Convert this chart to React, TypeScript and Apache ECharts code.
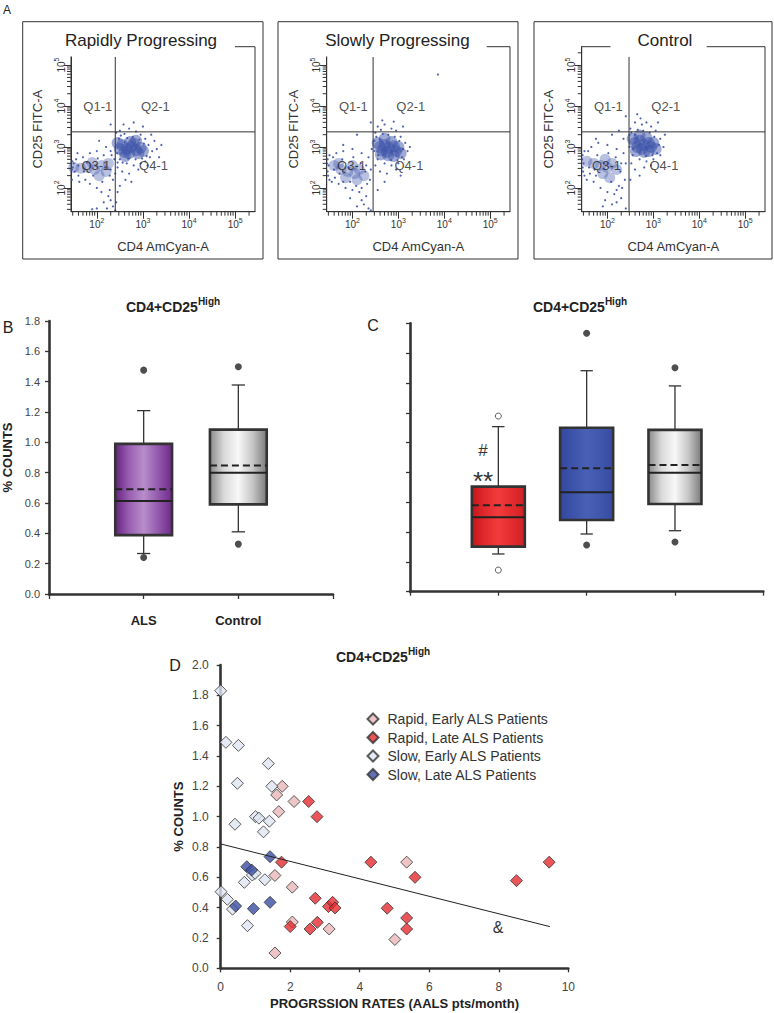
import React, { useEffect, useRef } from 'react';
import * as echarts from 'echarts';

const FONT = '"Liberation Sans", Arial, Helvetica, sans-serif';

// ---------------- Panel A : flow cytometry (values in log10 units) ----------------
const FLOW_TITLES = ['Rapidly Progressing', 'Slowly Progressing', 'Control'];
const FLOW_X_NAME = 'CD4 AmCyan-A';
const FLOW_Y_NAME = 'CD25 FITC-A';
const FLOW_DECADE_TICKS = [2, 3, 4, 5];
const FLOW_DECADES = [1, 2, 3, 4, 5];
const FLOW_MINOR_MULTIPLES = [2, 3, 4, 5, 6, 7, 8, 9];
const FLOW_X_RANGE = [1.44, 5.43];
const FLOW_Y_RANGE = [1.42, 5.45];
const GATE_TOP = 5.2;
const QUAD_LABELS = ['Q1-1', 'Q2-1', 'Q3-1', 'Q4-1'];
const QUAD_X = [2.02, 3.27, 1.98, 3.23];
const QUAD_Y = [4.0, 4.0, 2.55, 2.55];
const GATE_X = [2.4, 2.45, 2.47];
const GATE_Y = [3.37, 3.37, 3.37];

const RAPID_CORE = [[2.55, 3.05], [2.65, 2.95], [2.75, 3.0], [2.85, 2.92], [2.7, 2.85], [2.6, 2.88], [2.8, 3.08], [2.95, 2.98], [2.5, 2.95], [2.9, 2.85], [2.72, 3.12], [2.62, 2.78], [3.0, 2.9], [2.45, 3.1], [2.85, 3.15]];
const RAPID_Q3_CORE = [[1.8, 2.5], [1.95, 2.45], [2.1, 2.55], [2.2, 2.4], [1.65, 2.48], [2.05, 2.3], [1.9, 2.62], [2.25, 2.6], [1.5, 2.5]];
const RAPID_DOTS = [[2.42, 3.35], [2.5, 3.4], [2.6, 3.32], [2.7, 3.45], [2.85, 3.38], [2.95, 3.3], [3.05, 3.2], [3.12, 3.05], [3.2, 2.9], [3.15, 2.75], [3.05, 2.65], [2.95, 2.6], [2.8, 2.55], [2.65, 2.6], [2.5, 2.7], [2.45, 2.5], [2.55, 2.4], [2.7, 2.35], [2.9, 2.45], [3.1, 2.55], [3.25, 3.15], [3.3, 2.95], [2.58, 3.55], [2.8, 3.6], [3.0, 3.5], [2.44, 2.85], [2.48, 3.2], [3.18, 3.3], [2.62, 2.2], [2.5, 2.05], [2.75, 2.15], [1.5, 2.6], [1.52, 2.4], [1.55, 2.7], [1.6, 2.3], [1.7, 2.75], [1.75, 2.2], [1.85, 2.85], [1.85, 2.1], [2.0, 2.9], [2.0, 2.0], [2.15, 2.8], [2.12, 2.15], [2.3, 2.9], [2.35, 2.2], [2.38, 2.7], [2.3, 2.45], [2.2, 3.0], [2.1, 1.9], [2.25, 1.8], [2.3, 1.7], [2.15, 1.65], [2.35, 1.55], [2.0, 1.5], [1.9, 1.48], [2.4, 1.45], [2.28, 1.95], [1.6, 2.55], [1.48, 2.5], [2.3, 3.55], [2.05, 3.15], [1.46, 2.45], [1.47, 2.65], [1.46, 2.2], [1.58, 2.85], [1.62, 2.15], [1.72, 2.4], [1.78, 2.62], [1.92, 2.3], [2.02, 2.72], [2.18, 2.5], [2.28, 2.3], [2.32, 2.8], [2.4, 2.35], [2.45, 2.62], [2.52, 3.28], [2.66, 3.22], [2.78, 3.25], [2.92, 3.18], [3.02, 3.08], [3.08, 2.78], [2.98, 2.72], [2.84, 2.7], [2.56, 2.62], [2.6, 3.12], [2.68, 2.72], [3.35, 2.75], [3.4, 3.05], [2.45, 1.9], [2.42, 1.65], [2.22, 1.5]];

const SLOW_CORE = [[2.6, 3.0], [2.7, 3.05], [2.8, 2.98], [2.9, 3.02], [2.95, 2.9], [2.75, 2.88], [2.65, 2.92], [2.85, 3.12], [3.0, 3.0], [2.55, 3.1], [2.78, 2.8], [2.9, 2.78], [3.05, 2.85], [2.7, 3.2], [2.62, 2.82]];
const SLOW_Q3_CORE = [[1.75, 2.45], [1.9, 2.4], [2.05, 2.35], [2.15, 2.45], [2.0, 2.55], [1.6, 2.55], [2.25, 2.3], [1.85, 2.25], [2.1, 2.2], [1.7, 2.6]];
const SLOW_DOTS = [[2.5, 3.35], [2.55, 3.5], [2.7, 3.55], [2.85, 3.45], [2.95, 3.4], [3.05, 3.25], [3.15, 3.1], [3.2, 2.9], [3.12, 2.7], [3.0, 2.6], [2.85, 2.55], [2.7, 2.6], [2.55, 2.7], [2.48, 2.9], [2.5, 2.55], [2.6, 2.4], [2.75, 2.35], [2.95, 2.45], [3.25, 3.0], [2.65, 3.65], [2.9, 3.62], [3.1, 3.5], [2.48, 3.15], [3.05, 2.3], [2.7, 2.15], [2.55, 1.95], [1.45, 2.6], [1.47, 2.3], [1.5, 2.8], [1.55, 2.15], [1.65, 2.85], [1.7, 2.1], [1.8, 2.9], [1.85, 2.0], [2.0, 2.95], [2.0, 1.95], [2.2, 2.85], [2.15, 1.9], [2.35, 2.75], [2.38, 2.2], [2.3, 2.55], [2.3, 1.8], [2.2, 1.7], [2.25, 1.6], [2.1, 1.55], [2.35, 1.5], [1.95, 1.75], [2.4, 1.45], [1.8, 3.05], [2.1, 3.3], [1.6, 2.45], [1.48, 2.55], [2.42, 2.95], [3.86, 4.77], [1.46, 2.4], [1.46, 2.7], [1.5, 2.2], [1.58, 2.75], [1.62, 2.25], [1.72, 2.35], [1.78, 2.7], [1.92, 2.5], [2.02, 2.75], [2.18, 2.6], [2.28, 2.4], [2.32, 2.1], [2.4, 2.45], [2.08, 2.05], [2.52, 3.25], [2.66, 3.32], [2.78, 3.3], [2.92, 3.25], [3.02, 3.15], [3.08, 2.75], [2.98, 2.68], [2.84, 2.68], [2.56, 2.8], [2.6, 3.18], [3.1, 2.95], [2.62, 3.42], [2.4, 3.6], [2.2, 2.0], [1.95, 2.15], [1.8, 2.15]];

const CONTROL_CORE = [[2.6, 3.1], [2.7, 3.15], [2.8, 3.05], [2.9, 3.1], [2.95, 3.0], [2.75, 2.95], [2.65, 3.0], [2.85, 3.22], [3.0, 3.1], [2.55, 3.2], [2.8, 2.88], [2.9, 2.9], [3.05, 2.95], [2.7, 3.28], [2.62, 2.9]];
const CONTROL_Q3_CORE = [[1.7, 2.6], [1.85, 2.55], [2.0, 2.5], [2.1, 2.6], [1.95, 2.7], [1.55, 2.65], [2.2, 2.45], [1.9, 2.35], [2.05, 2.25]];
const CONTROL_DOTS = [[2.5, 3.45], [2.6, 3.6], [2.72, 3.7], [2.85, 3.6], [2.95, 3.5], [3.05, 3.4], [3.15, 3.2], [3.22, 3.0], [3.15, 2.8], [3.0, 2.7], [2.85, 2.65], [2.7, 2.7], [2.55, 2.8], [2.48, 3.0], [2.52, 2.6], [2.6, 2.45], [2.8, 2.5], [3.25, 3.3], [2.65, 3.8], [3.1, 3.6], [2.48, 3.3], [2.7, 2.3], [2.5, 2.2], [2.95, 2.55], [1.45, 2.7], [1.47, 2.4], [1.5, 2.9], [1.55, 2.2], [1.65, 3.0], [1.7, 2.15], [1.8, 3.1], [1.85, 2.0], [2.0, 3.05], [2.0, 1.9], [2.2, 2.95], [2.15, 1.85], [2.35, 2.85], [2.38, 2.2], [2.3, 2.6], [2.3, 1.75], [2.2, 1.65], [2.25, 2.05], [2.1, 1.6], [1.95, 1.7], [2.4, 1.5], [1.75, 3.2], [2.1, 3.3], [1.6, 2.5], [1.48, 2.6], [1.9, 1.55], [2.35, 3.2], [1.46, 2.5], [1.46, 2.8], [1.5, 2.3], [1.58, 2.9], [1.62, 2.35], [1.72, 2.45], [1.78, 2.8], [1.92, 2.6], [2.02, 2.85], [2.18, 2.75], [2.28, 2.4], [2.32, 2.0], [2.4, 2.6], [2.08, 2.15], [2.52, 3.35], [2.66, 3.42], [2.78, 3.4], [2.92, 3.35], [3.02, 3.25], [3.08, 2.85], [2.98, 2.8], [2.84, 2.78], [2.56, 2.95], [2.6, 3.3], [3.12, 3.05], [2.75, 3.55], [2.4, 3.75], [2.2, 1.95], [1.75, 2.3], [2.25, 3.4]];

const FLOW_CORES = [RAPID_CORE, SLOW_CORE, CONTROL_CORE];
const FLOW_Q3_CORES = [RAPID_Q3_CORE, SLOW_Q3_CORE, CONTROL_Q3_CORE];
const FLOW_DOTS = [RAPID_DOTS, SLOW_DOTS, CONTROL_DOTS];

// ---------------- Panel B : ALS vs Control ----------------
const B_TITLE_MAIN = 'CD4+CD25';
const B_TITLE_SUP = 'High';
const B_CATEGORIES = ['ALS', 'Control'];
const B_LOW = [0.267, 0.41];
const B_Q1 = [0.388, 0.591];
const B_MEDIAN = [0.613, 0.8];
const B_Q3 = [0.99, 1.084];
const B_HIGH = [1.209, 1.378];
const B_MEAN = [0.69, 0.848];
const B_OUT_HIGH = [1.476, 1.498];
const B_OUT_LOW = [0.241, 0.329];

// ---------------- Panel C : rapid / slow / control ----------------
const C_GROUPS = ['Rapid', 'Slow', 'Control'];
const C_LOW = [0.253, 0.387, 0.409];
const C_Q1 = [0.302, 0.481, 0.588];
const C_MEDIAN = [0.499, 0.667, 0.798];
const C_Q3 = [0.705, 1.1, 1.085];
const C_HIGH = [1.107, 1.482, 1.38];
const C_MEAN = [0.58, 0.828, 0.85];
const C_OUT_HIGH = [1.178, 1.733, 1.502];
const C_OUT_LOW = [0.145, 0.313, 0.333];
const C_OUT_OPEN = [true, false, false];

// ---------------- Panel D : scatter ----------------
const D_NAMES = ['Rapid, Early ALS Patients', 'Rapid, Late ALS Patients', 'Slow, Early ALS Patients', 'Slow, Late ALS Patients'];
const RAPID_EARLY = [[1.77, 1.2], [1.61, 1.143], [1.67, 1.033], [2.11, 1.1], [1.56, 0.612], [2.06, 0.535], [2.06, 0.305], [1.56, 0.101], [3.12, 0.259], [5.35, 0.7], [5.01, 0.19]];
const RAPID_LATE = [[2.53, 1.1], [2.77, 1.0], [1.75, 0.7], [2.0, 0.275], [2.57, 0.259], [2.72, 0.462], [2.78, 0.303], [3.1, 0.407], [3.22, 0.435], [3.29, 0.398], [4.32, 0.7], [4.79, 0.396], [5.59, 0.6], [5.35, 0.332], [5.35, 0.259], [8.51, 0.578], [9.45, 0.7]];
const SLOW_EARLY = [[0, 1.83], [0.15, 1.49], [0.51, 1.47], [0.48, 1.22], [0.41, 0.95], [1.37, 1.35], [1.47, 1.2], [1.0, 1.0], [1.1, 0.99], [1.4, 0.97], [1.23, 0.9], [0.68, 0.567], [0.91, 0.615], [0.99, 0.626], [1.27, 0.584], [0.01, 0.505], [0.19, 0.455], [0.34, 0.39], [0.77, 0.281]];
const SLOW_LATE = [[0.43, 0.41], [0.75, 0.67], [0.89, 0.648], [0.94, 0.393], [1.42, 0.435], [1.42, 0.736]];
const REGRESSION = [[0, 0.82], [9.47, 0.275]];
const D_X_NAME = 'PROGRSSION RATES (AALS pts/month)';
const Y_NAME = '% COUNTS';

// ---------------- styles ----------------
const DARK = '#333';
const DOT_BLUE = '#3d53aa';
const D_COLORS = ['#e9b7b8', '#e32a2e', '#dfe5f1', '#3b4ea4'];
const B_FILLS = [
  ['#66237f', '#9a60b3', '#b88dcb', '#935aae', '#6d2a89'],
  ['#8a8a8a', '#dadada', '#f8f8f8', '#c6c6c6', '#7a7a7a'],
];
const C_FILLS = [
  ['#c2161b', '#e22a2d', '#f23b3d', '#e42c2f', '#cd2125'],
  ['#33479d', '#3e54ab', '#4860b6', '#4057ad', '#364aa1'],
  ['#8a8a8a', '#dadada', '#f8f8f8', '#c6c6c6', '#7a7a7a'],
];
const BOX_WIDTH = 0.6;
const CAP_WIDTH = 0.14;

function makeBoxRenderer(fills: string[][]) {
  return (params: any, api: any) => {
    const x = api.value(0);
    const pLow = api.coord([x, api.value(1)]);
    const pQ1 = api.coord([x, api.value(2)]);
    const pMed = api.coord([x, api.value(3)]);
    const pQ3 = api.coord([x, api.value(4)]);
    const pHigh = api.coord([x, api.value(5)]);
    const pMean = api.coord([x, api.value(6)]);
    const half = api.size([BOX_WIDTH, 0])[0] / 2;
    const cap = api.size([CAP_WIDTH, 0])[0] / 2;
    const cx = pQ1[0];
    const stops = fills[params.dataIndex];
    const grad = new echarts.graphic.LinearGradient(0, 0, 1, 0,
      stops.map((c, i) => ({ offset: i / (stops.length - 1), color: c })));
    const thin = { stroke: DARK, lineWidth: 1.3 };
    return {
      type: 'group',
      children: [
        { type: 'line', shape: { x1: cx, y1: pHigh[1], x2: cx, y2: pQ3[1] }, style: thin },
        { type: 'line', shape: { x1: cx - cap, y1: pHigh[1], x2: cx + cap, y2: pHigh[1] }, style: thin },
        { type: 'line', shape: { x1: cx, y1: pLow[1], x2: cx, y2: pQ1[1] }, style: thin },
        { type: 'line', shape: { x1: cx - cap, y1: pLow[1], x2: cx + cap, y2: pLow[1] }, style: thin },
        {
          type: 'rect',
          shape: { x: cx - half, y: pQ3[1], width: half * 2, height: pQ1[1] - pQ3[1] },
          style: { fill: grad, stroke: DARK, lineWidth: 2.6 },
        },
        { type: 'line', shape: { x1: cx - half, y1: pMed[1], x2: cx + half, y2: pMed[1] }, style: { stroke: '#222', lineWidth: 2 } },
        { type: 'line', shape: { x1: cx - half, y1: pMean[1], x2: cx + half, y2: pMean[1] }, style: { stroke: '#222', lineWidth: 2, lineDash: [7, 4] } },
      ],
    };
  };
}

// log minor ticks of the flow plots, drawn through the axis scales
function makeTickRenderer(dir: 'x' | 'y', len: number) {
  return (_params: any, api: any) => {
    const p = api.coord([api.value(0), api.value(1)]);
    if (dir === 'x') {
      return { type: 'line', shape: { x1: p[0], y1: p[1], x2: p[0], y2: p[1] + len }, style: { stroke: DARK, lineWidth: 1 } };
    }
    return { type: 'line', shape: { x1: p[0] - len, y1: p[1], x2: p[0], y2: p[1] }, style: { stroke: DARK, lineWidth: 1 } };
  };
}

const supRich = (size: number, supSize: number, weight: string) => ({
  a: { fontSize: size, fontWeight: weight, fontFamily: FONT, fill: '#222', color: '#222', verticalAlign: 'bottom', lineHeight: size + 4 },
  s: { fontSize: supSize, fontWeight: weight, fontFamily: FONT, fill: '#222', color: '#222', verticalAlign: 'top', lineHeight: size + 4 },
});

export default function App() {
  const ref = useRef<HTMLDivElement>(null);
  useEffect(() => {
    if (!ref.current) return;
    const chart = echarts.init(ref.current, undefined, { renderer: 'svg' });

    const flowGrids = [
      { left: 71, top: 46.7, width: 184, height: 165 },
      { left: 326.7, top: 46.7, width: 183.3, height: 165 },
      { left: 581.7, top: 46.7, width: 183.3, height: 165 },
    ];
    const grids: any[] = flowGrids.map((g) => ({ ...g, show: true, borderColor: DARK, borderWidth: 1, backgroundColor: 'transparent' }));
    grids.push({ left: 49, top: 321, width: 284, height: 273 }); // B
    grids.push({ left: 410, top: 323.3, width: 353.3, height: 268.4 }); // C
    grids.push({ left: 220.7, top: 665, width: 347.6, height: 303.3 }); // D

    const minorX = FLOW_DECADES.flatMap((d) => FLOW_MINOR_MULTIPLES.map((m) => d + Math.log10(m)))
      .filter((v) => v > FLOW_X_RANGE[0] && v < FLOW_X_RANGE[1]);
    const minorY = FLOW_DECADES.flatMap((d) => FLOW_MINOR_MULTIPLES.map((m) => d + Math.log10(m)))
      .filter((v) => v > FLOW_Y_RANGE[0] && v < FLOW_Y_RANGE[1]);

    const expRich = {
      b: { fontSize: 10, color: DARK, fontFamily: FONT, verticalAlign: 'bottom', lineHeight: 13 },
      s: { fontSize: 7, color: DARK, fontFamily: FONT, verticalAlign: 'top', lineHeight: 13 },
    };
    const xAxes: any[] = [];
    const yAxes: any[] = [];
    for (let i = 0; i < 3; i++) {
      xAxes.push({
        type: 'value', gridIndex: i, min: FLOW_X_RANGE[0], max: FLOW_X_RANGE[1], position: 'bottom',
        axisLine: { show: true, onZero: false, lineStyle: { color: DARK, width: 1 } },
        axisTick: { show: true, customValues: FLOW_DECADE_TICKS, length: 7, lineStyle: { color: DARK } },
        axisLabel: { show: true, customValues: FLOW_DECADE_TICKS, formatter: (v: number) => `{b|10}{s|${v}}`, rich: expRich, margin: 5 },
        splitLine: { show: false },
        name: FLOW_X_NAME, nameLocation: 'middle', nameGap: 28,
        nameTextStyle: { fontSize: 13, color: DARK, fontFamily: FONT },
      });
      yAxes.push({
        type: 'value', gridIndex: i, min: FLOW_Y_RANGE[0], max: FLOW_Y_RANGE[1], position: 'left',
        axisLine: { show: true, onZero: false, lineStyle: { color: DARK, width: 1 } },
        axisTick: { show: true, customValues: FLOW_DECADE_TICKS, length: 7, lineStyle: { color: DARK } },
        axisLabel: { show: true, customValues: FLOW_DECADE_TICKS, rotate: 90, formatter: (v: number) => `{b|10}{s|${v}}`, rich: expRich, margin: 5 },
        splitLine: { show: false },
        name: FLOW_Y_NAME, nameLocation: 'middle', nameGap: 27,
        nameTextStyle: { fontSize: 13, color: DARK, fontFamily: FONT },
      });
    }
    const thickLine = { show: true, onZero: false, lineStyle: { color: DARK, width: 2.6 } };
    // B
    xAxes.push({
      type: 'value', gridIndex: 3, min: 0, max: B_CATEGORIES.length + 1, interval: 1,
      axisLine: thickLine, axisTick: { show: true, length: 5, lineStyle: { color: DARK, width: 1.3 } },
      axisLabel: { formatter: (v: number) => B_CATEGORIES[v - 1] || '', fontSize: 13, fontWeight: 'bold', color: '#222', fontFamily: FONT, margin: 20 },
      splitLine: { show: false },
    });
    yAxes.push({
      type: 'value', gridIndex: 3, min: 0, max: 1.8, interval: 0.2,
      axisLine: thickLine, axisTick: { show: true, length: 4, lineStyle: { color: DARK, width: 1.3 } },
      axisLabel: { formatter: (v: number) => v.toFixed(1), fontSize: 11, color: '#444', fontFamily: FONT, margin: 9 },
      splitLine: { show: false },
      name: Y_NAME, nameLocation: 'middle', nameGap: 35,
      nameTextStyle: { fontSize: 13, fontWeight: 'bold', color: '#222', fontFamily: FONT },
    });
    // C
    xAxes.push({
      type: 'value', gridIndex: 4, min: 0, max: C_GROUPS.length + 1, interval: 1,
      axisLine: thickLine, axisTick: { show: true, length: 4, lineStyle: { color: DARK, width: 1.3 } },
      axisLabel: { show: false }, splitLine: { show: false },
    });
    yAxes.push({
      type: 'value', gridIndex: 4, min: 0, max: 1.8, interval: 0.2,
      axisLine: thickLine, axisTick: { show: true, length: 4, lineStyle: { color: DARK, width: 1.3 } },
      axisLabel: { show: false }, splitLine: { show: false },
    });
    // D
    xAxes.push({
      type: 'value', gridIndex: 5, min: 0, max: 10, interval: 2,
      axisLine: thickLine, axisTick: { show: true, length: 4, lineStyle: { color: DARK, width: 1.3 } },
      axisLabel: { fontSize: 12, color: '#444', fontFamily: FONT, margin: 13 },
      splitLine: { show: false },
      name: D_X_NAME, nameLocation: 'middle', nameGap: 29,
      nameTextStyle: { fontSize: 13, fontWeight: 'bold', color: '#222', fontFamily: FONT },
    });
    yAxes.push({
      type: 'value', gridIndex: 5, min: 0, max: 2.0, interval: 0.2,
      axisLine: thickLine, axisTick: { show: true, length: 4, lineStyle: { color: DARK, width: 1.3 } },
      axisLabel: { formatter: (v: number) => v.toFixed(1), fontSize: 12, color: '#444', fontFamily: FONT, margin: 12 },
      splitLine: { show: false },
      name: Y_NAME, nameLocation: 'middle', nameGap: 36,
      nameTextStyle: { fontSize: 13, fontWeight: 'bold', color: '#222', fontFamily: FONT },
    });

    // axis index bases: flow 0..2, B 3, C 4, D 5
    const series: any[] = [];
    for (let i = 0; i < 3; i++) {
      const ax = { xAxisIndex: i, yAxisIndex: i };
      series.push({
        type: 'custom', ...ax, renderItem: makeTickRenderer('x', 4), silent: true, clip: false, z: 6,
        data: minorX.map((v) => [v, FLOW_Y_RANGE[0]]), encode: { x: 0, y: 1 },
      });
      series.push({
        type: 'custom', ...ax, renderItem: makeTickRenderer('y', 4), silent: true, clip: false, z: 6,
        data: minorY.map((v) => [FLOW_X_RANGE[0], v]), encode: { x: 0, y: 1 },
      });
      series.push({ type: 'scatter', ...ax, data: FLOW_Q3_CORES[i], symbolSize: 11, itemStyle: { color: DOT_BLUE, opacity: 0.36 }, silent: true });
      series.push({ type: 'scatter', ...ax, data: FLOW_CORES[i], symbolSize: 12, itemStyle: { color: DOT_BLUE, opacity: 0.5 }, silent: true });
      series.push({ type: 'scatter', ...ax, data: FLOW_DOTS[i], symbolSize: 2.2, itemStyle: { color: DOT_BLUE, opacity: 0.9 }, silent: true });
      series.push({ type: 'line', ...ax, data: [[GATE_X[i], FLOW_Y_RANGE[0]], [GATE_X[i], GATE_TOP]], symbol: 'none', lineStyle: { color: DARK, width: 1 }, silent: true });
      series.push({ type: 'line', ...ax, data: [[FLOW_X_RANGE[0], GATE_Y[i]], [FLOW_X_RANGE[1], GATE_Y[i]]], symbol: 'none', lineStyle: { color: DARK, width: 1 }, silent: true });
      series.push({
        type: 'scatter', ...ax, symbolSize: 1, itemStyle: { color: 'rgba(0,0,0,0)' }, silent: true, z: 5,
        data: QUAD_LABELS.map((n, k) => ({ name: n, value: [QUAD_X[k], QUAD_Y[k]] })),
        label: { show: true, position: 'inside', formatter: (p: any) => p.name, fontSize: 13, color: '#222', fontFamily: FONT },
      });
    }
    // B boxes
    series.push({
      type: 'custom', xAxisIndex: 3, yAxisIndex: 3, renderItem: makeBoxRenderer(B_FILLS),
      data: B_CATEGORIES.map((_, i) => [i + 1, B_LOW[i], B_Q1[i], B_MEDIAN[i], B_Q3[i], B_HIGH[i], B_MEAN[i]]),
      encode: { x: 0, y: [1, 2, 3, 4, 5] }, silent: true,
    });
    series.push({
      type: 'scatter', xAxisIndex: 3, yAxisIndex: 3, symbolSize: 7, itemStyle: { color: '#222' }, silent: true,
      data: B_CATEGORIES.flatMap((_, i) => [[i + 1, B_OUT_HIGH[i]], [i + 1, B_OUT_LOW[i]]]),
    });
    // C boxes
    series.push({
      type: 'custom', xAxisIndex: 4, yAxisIndex: 4, renderItem: makeBoxRenderer(C_FILLS),
      data: C_GROUPS.map((_, i) => [i + 1, C_LOW[i], C_Q1[i], C_MEDIAN[i], C_Q3[i], C_HIGH[i], C_MEAN[i]]),
      encode: { x: 0, y: [1, 2, 3, 4, 5] }, silent: true,
    });
    series.push({
      type: 'scatter', xAxisIndex: 4, yAxisIndex: 4, silent: true,
      data: C_GROUPS.flatMap((_, i) => [[i + 1, C_OUT_HIGH[i]], [i + 1, C_OUT_LOW[i]]].map((v) => ({
        value: v,
        symbolSize: C_OUT_OPEN[i] ? 6 : 7,
        itemStyle: C_OUT_OPEN[i] ? { color: '#fff', borderColor: DARK, borderWidth: 1 } : { color: '#222' },
      }))),
    });
    // D
    series.push({
      type: 'line', xAxisIndex: 5, yAxisIndex: 5, data: REGRESSION, symbol: 'none',
      lineStyle: { color: '#222', width: 1 }, silent: true,
    });
    [RAPID_EARLY, RAPID_LATE, SLOW_EARLY, SLOW_LATE].forEach((d, i) => {
      series.push({
        type: 'scatter', name: D_NAMES[i], xAxisIndex: 5, yAxisIndex: 5, data: d,
        symbol: 'diamond', symbolSize: 12,
        itemStyle: { color: D_COLORS[i], borderColor: DARK, borderWidth: 1 }, silent: true,
      });
    });

    const text = (x: number, y: number, t: string, size: number, extra: any = {}) => ({
      type: 'text', x, y, z: 20,
      style: { text: t, fontSize: size, fontFamily: FONT, fill: '#222', align: 'center', verticalAlign: 'middle', ...extra },
    });
    const titleCenters = [141, 397.5, 665];
    const titleMasks = [
      { x: 59, y: 27, width: 176, height: 29.5 },
      { x: 315, y: 27, width: 171.7, height: 29.5 },
      { x: 610.5, y: 33, width: 96.2, height: 18 },
    ];
    const graphics: any[] = [
      { type: 'rect', shape: { x: 22.7, y: 21.7, width: 240.3, height: 237.3 }, style: { fill: 'none', stroke: DARK, lineWidth: 1 }, z: 20 },
      { type: 'rect', shape: { x: 278, y: 21.7, width: 240, height: 237.3 }, style: { fill: 'none', stroke: DARK, lineWidth: 1 }, z: 20 },
      { type: 'rect', shape: { x: 534, y: 21.7, width: 238, height: 237.3 }, style: { fill: 'none', stroke: DARK, lineWidth: 1 }, z: 20 },
      ...titleMasks.map((m) => ({ type: 'rect', shape: m, style: { fill: '#fff', stroke: 'none' }, z: 19 })),
      ...FLOW_TITLES.map((t, i) => text(titleCenters[i], 40, t, 17)),
      text(7, 10, 'A', 12),
      text(8, 327, 'B', 16),
      text(373, 325, 'C', 16),
      text(175, 665, 'D', 16),
      text(173, 305, `{a|${B_TITLE_MAIN}}{s|${B_TITLE_SUP}}`, 14, { rich: supRich(14, 10, 'bold'), fontWeight: 'bold' }),
      text(580, 305, `{a|${B_TITLE_MAIN}}{s|${B_TITLE_SUP}}`, 14, { rich: supRich(14, 10, 'bold'), fontWeight: 'bold' }),
      text(383, 655, `{a|${B_TITLE_MAIN}}{s|${B_TITLE_SUP}}`, 14, { rich: supRich(14, 10, 'bold'), fontWeight: 'bold' }),
      text(483, 450, '#', 17, { fill: '#333' }),
      text(483, 481, '**', 26, { fill: '#333' }),
      text(498, 927, '&', 16, { fill: '#333' }),
    ];

    chart.setOption({
      animation: false,
      backgroundColor: '#fff',
      textStyle: { fontFamily: FONT },
      grid: grids,
      xAxis: xAxes,
      yAxis: yAxes,
      legend: {
        data: D_NAMES, orient: 'vertical', left: 361.5, top: 707, itemWidth: 11, itemHeight: 11, itemGap: 4.5,
        icon: 'diamond', selectedMode: false,
        textStyle: { fontSize: 14, color: DARK, fontFamily: FONT, padding: [0, 0, 0, 4] },
      },
      series,
      graphic: graphics,
    });
    return () => chart.dispose();
  }, []);
  return <div ref={ref} style={{ position: 'absolute', left: 0, top: 0, width: 774, height: 1013 }} />;
}
